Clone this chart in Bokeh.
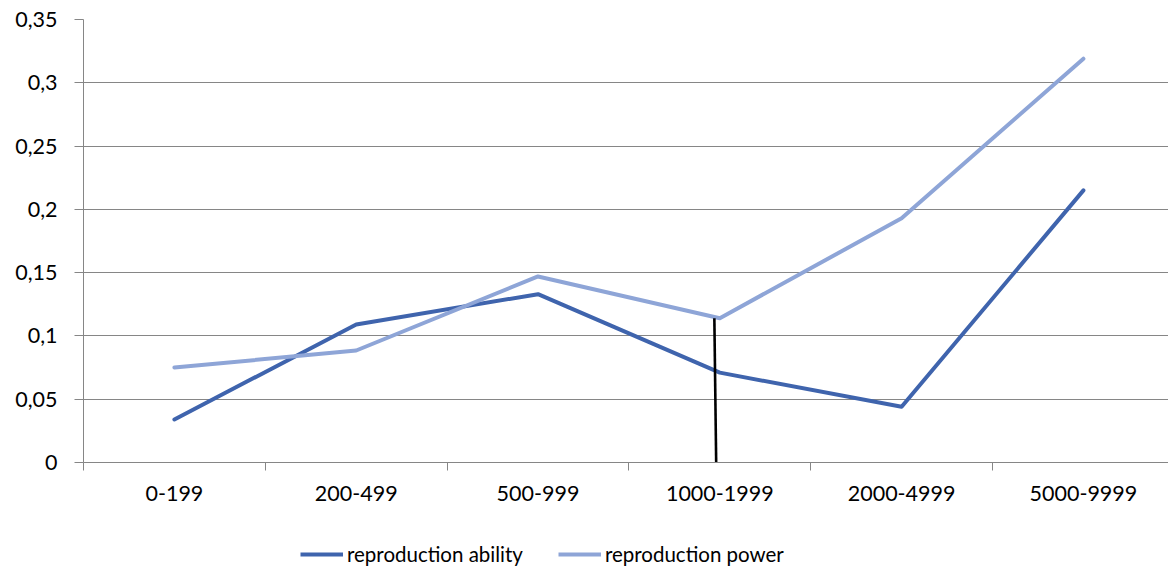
from bokeh.plotting import figure
from bokeh.layouts import column
from bokeh.models import ColumnDataSource, FixedTicker, Range1d, Legend, LegendItem
from bokeh.embed import file_html
from bokeh.resources import INLINE

# Turnover bands and the two indicators per band
categories = ["0-199", "200-499", "500-999", "1000-1999", "2000-4999", "5000-9999"]
reproduction_ability = [0.034, 0.109, 0.133, 0.071, 0.044, 0.215]
reproduction_power = [0.075, 0.0885, 0.147, 0.114, 0.193, 0.319]
y_ticks = [0, 0.05, 0.1, 0.15, 0.2, 0.25, 0.3, 0.35]
y_labels = ["0", "0,05", "0,1", "0,15", "0,2", "0,25", "0,3", "0,35"]
series_names = ["reproduction ability", "reproduction power"]

# marker line at the 1000-1999 band (category index, value reached)
marker_x = [3.48, 3.47]
marker_y = [0.0, 0.114]

FONT = "Lato"
FONT_SIZE = "21.5px"
GRID = "#868686"
C_ABILITY = "#3F64AD"
C_POWER = "#8EA5D7"

xs = [i + 0.5 for i in range(len(categories))]

p = figure(width=1168, height=517, output_backend="svg", toolbar_location=None,
           x_range=Range1d(0, 5.968), y_range=Range1d(0, 0.35),
           min_border_left=83, min_border_right=0, min_border_top=19,
           min_border_bottom=55)
p.outline_line_color = None

src = ColumnDataSource(dict(x=xs, ability=reproduction_ability, power=reproduction_power))
p.line("x", "ability", source=src, line_color=C_ABILITY, line_width=4,
       line_join="round", line_cap="round")
p.line("x", "power", source=src, line_color=C_POWER, line_width=4,
       line_join="round", line_cap="round")
p.line(marker_x, marker_y, line_color="black", line_width=2.6)

# x axis: labels at band centres, tick marks at band edges
p.xaxis.ticker = FixedTicker(ticks=xs, minor_ticks=list(range(0, 7)))
p.xaxis.major_label_overrides = {x: c for x, c in zip(xs, categories)}
p.xaxis.major_tick_line_color = None
p.xaxis.minor_tick_line_color = GRID
p.xaxis.minor_tick_out = 8
p.xaxis.minor_tick_in = 0
p.xaxis.axis_line_color = GRID
p.xaxis.major_label_standoff = 15
p.xgrid.grid_line_color = None

p.yaxis.ticker = FixedTicker(ticks=y_ticks)
p.yaxis.major_label_overrides = {t: l for t, l in zip(y_ticks, y_labels)}
p.yaxis.major_tick_line_color = GRID
p.yaxis.major_tick_out = 9
p.yaxis.major_tick_in = 0
p.yaxis.minor_tick_line_color = None
p.yaxis.axis_line_color = GRID
p.yaxis.major_label_standoff = 17
p.ygrid.grid_line_color = GRID
p.ygrid.grid_line_width = 1

for ax in (p.xaxis, p.yaxis):
    ax.major_label_text_font = FONT
    ax.major_label_text_font_size = FONT_SIZE
    ax.major_label_text_color = "#000000"

# legend strip underneath the chart; its key lines sit outside the visible range
lg = figure(width=1168, height=50, output_backend="svg", toolbar_location=None,
            x_range=Range1d(0, 1), y_range=Range1d(0, 1),
            x_axis_type=None, y_axis_type=None,
            min_border_left=0, min_border_right=0, min_border_top=0,
            min_border_bottom=0)
lg.outline_line_color = None
lg.grid.grid_line_color = None
k_ab = lg.line(x=[-5, -4], y=[-5, -4], line_color=C_ABILITY, line_width=4)
k_pw = lg.line(x=[-5, -4], y=[-5, -4], line_color=C_POWER, line_width=4)

legend = Legend(items=[LegendItem(label=series_names[0], renderers=[k_ab]),
                       LegendItem(label=series_names[1], renderers=[k_pw])],
                orientation="horizontal", location=(217, 1))
legend.label_text_font = FONT
legend.label_text_font_size = "20.5px"
legend.label_text_color = "#000000"
legend.glyph_width = 43
legend.label_standoff = 4
legend.spacing = 35
legend.padding = 0
legend.margin = 0
legend.border_line_color = None
legend.background_fill_alpha = 0
lg.add_layout(legend)

open("out.html", "w").write(file_html(column(p, lg), INLINE))
